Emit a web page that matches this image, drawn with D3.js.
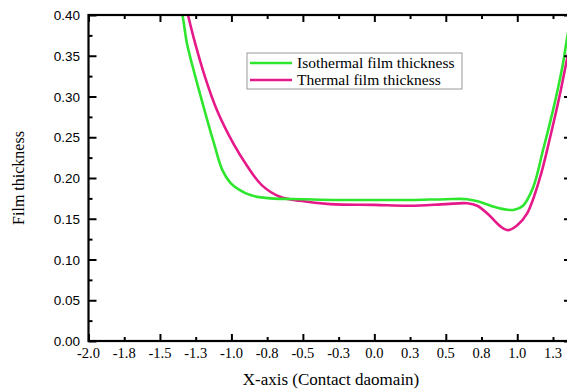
<!DOCTYPE html>
<html>
<head>
<meta charset="utf-8">
<script src="https://cdn.jsdelivr.net/npm/d3@7/dist/d3.min.js"></script>
<style>
body { margin: 0; background: #fff; }
</style>
</head>
<body>
<div id="chart"></div>
<script>
// values
var isoX = [-1.38, -1.343, -1.311, -1.252, -1.188, -1.123, -1.064, -1.007, -0.95, -0.867, -0.727, -0.5, -0.25, 0.0, 0.25, 0.5, 0.65, 0.75, 0.85, 0.93, 0.98, 1.04, 1.112, 1.18, 1.25, 1.315, 1.35, 1.39];
var isoY = [0.424, 0.400, 0.365, 0.324, 0.283, 0.243, 0.210, 0.194, 0.186, 0.179, 0.175, 0.174, 0.173, 0.173, 0.173, 0.174, 0.174, 0.170, 0.164, 0.161, 0.161, 0.166, 0.189, 0.234, 0.283, 0.336, 0.373, 0.412];

var thermX = [-1.33, -1.304, -1.255, -1.185, -1.101, -0.989, -0.891, -0.786, -0.66, -0.52, -0.31, 0.0, 0.25, 0.5, 0.65, 0.72, 0.80, 0.88, 0.937, 1.0, 1.07, 1.16, 1.23, 1.30, 1.35, 1.40];
var thermY = [0.420, 0.400, 0.366, 0.324, 0.283, 0.243, 0.215, 0.191, 0.177, 0.172, 0.168, 0.167, 0.166, 0.168, 0.169, 0.166, 0.155, 0.141, 0.136, 0.142, 0.157, 0.201, 0.250, 0.304, 0.348, 0.392];

var seriesNames = ["Isothermal film thickness", "Thermal film thickness"];

var xTicks = [-2.0, -1.75, -1.5, -1.25, -1.0, -0.75, -0.5, -0.25, 0.0, 0.25, 0.5, 0.75, 1.0, 1.25];
var xTickLabels = ["-2.0", "-1.8", "-1.5", "-1.3", "-1.0", "-0.8", "-0.5", "-0.3", "0.0", "0.3", "0.5", "0.8", "1.0", "1.3"];
var yTicks = [0.0, 0.05, 0.10, 0.15, 0.20, 0.25, 0.30, 0.35, 0.40];
var yTickLabels = ["0.00", "0.05", "0.10", "0.15", "0.20", "0.25", "0.30", "0.35", "0.40"];
var yMinor = [0.025, 0.075, 0.125, 0.175, 0.225, 0.275, 0.325, 0.375];

var colors = ["#2ee62e", "#e6198a"];

var svg = d3.select("#chart").append("svg").attr("width", 567).attr("height", 391),
    plotL = 88.5, plotR = 573, plotT = 15, plotB = 341;

var x = d3.scaleLinear().domain([-2.0, 1.39]).range([plotL, plotR]);
var y = d3.scaleLinear().domain([0, 0.4]).range([plotB, plotT]);

var serif = "'Liberation Serif','Times New Roman',serif",
    sans = "'Liberation Sans',Arial,sans-serif";

svg.append("clipPath").attr("id", "plot")
  .append("rect").attr("x", plotL).attr("y", plotT).attr("width", plotR - plotL).attr("height", plotB - plotT);

// curves
var line = d3.line()
  .x(function(d) { return x(d[0]); })
  .y(function(d) { return y(d[1]); })
  .curve(d3.curveCatmullRom.alpha(0.5));

var series = [d3.zip(isoX, isoY), d3.zip(thermX, thermY)];
// pink first so green sits on top like the original
[1, 0].forEach(function(i) {
  svg.append("path")
    .datum(series[i])
    .attr("clip-path", "url(#plot)")
    .attr("fill", "none")
    .attr("stroke", colors[i])
    .attr("stroke-width", 2.6)
    .attr("d", line);
});

// inward ticks on all four sides, major every 0.5 on x
var majorX = xTicks.filter(function(d) { return Math.abs(d * 2 - Math.round(d * 2)) < 1e-9; });
var minorX = xTicks.filter(function(d) { return majorX.indexOf(d) < 0; });

function axisGroup(axis, tx, ty) {
  var g = svg.append("g").attr("transform", "translate(" + tx + "," + ty + ")").call(axis);
  g.select(".domain").remove();
  g.selectAll(".tick line").attr("stroke", "#000").attr("stroke-width", 2);
  return g;
}

axisGroup(d3.axisTop(x).tickValues(majorX).tickSize(7).tickFormat(""), 0, plotB);
axisGroup(d3.axisTop(x).tickValues(minorX).tickSize(4).tickFormat(""), 0, plotB);
axisGroup(d3.axisBottom(x).tickValues(majorX).tickSize(7).tickFormat(""), 0, plotT);
axisGroup(d3.axisBottom(x).tickValues(minorX).tickSize(4).tickFormat(""), 0, plotT);
axisGroup(d3.axisRight(y).tickValues(yTicks).tickSize(8).tickFormat(""), plotL, 0);
axisGroup(d3.axisRight(y).tickValues(yMinor).tickSize(4).tickFormat(""), plotL, 0);
axisGroup(d3.axisLeft(y).tickValues(yTicks).tickSize(9).tickFormat(""), plotR, 0);
axisGroup(d3.axisLeft(y).tickValues(yMinor).tickSize(4).tickFormat(""), plotR, 0);

// frame
svg.append("rect")
  .attr("x", plotL).attr("y", plotT)
  .attr("width", plotR - plotL).attr("height", plotB - plotT)
  .attr("fill", "none").attr("stroke", "#000").attr("stroke-width", 2.2);

// tick labels
svg.append("g").selectAll("text")
  .data(xTicks)
  .enter().append("text")
  .attr("x", function(d) { return x(d); })
  .attr("y", 358)
  .attr("text-anchor", "middle")
  .style("font-family", serif).style("font-size", "14.5px")
  .text(function(d, i) { return xTickLabels[i]; });

svg.append("g").selectAll("text")
  .data(yTicks)
  .enter().append("text")
  .attr("x", 80)
  .attr("y", function(d) { return y(d) + 5; })
  .attr("text-anchor", "end")
  .style("font-family", sans).style("font-size", "13.5px")
  .text(function(d, i) { return yTickLabels[i]; });

// axis titles
svg.append("text")
  .attr("x", 331).attr("y", 385)
  .attr("text-anchor", "middle")
  .style("font-family", serif).style("font-size", "17px")
  .text("X-axis (Contact daomain)");

svg.append("text")
  .attr("transform", "translate(24,178) rotate(-90)")
  .attr("text-anchor", "middle")
  .style("font-family", serif).style("font-size", "16px")
  .text("Film thickness");

// legend
var lg = svg.append("g").attr("transform", "translate(247,53)");
lg.append("rect")
  .attr("width", 215).attr("height", 36)
  .attr("fill", "#fff").attr("stroke", "#999").attr("stroke-width", 1);

seriesNames.forEach(function(name, i) {
  var ly = 10 + i * 17;
  lg.append("line")
    .attr("x1", 3).attr("x2", 45).attr("y1", ly).attr("y2", ly)
    .attr("stroke", colors[i]).attr("stroke-width", 2.6);
  lg.append("text")
    .attr("x", 50).attr("y", ly + 5)
    .style("font-family", serif).style("font-size", "15.5px")
    .text(name);
});
</script>
</body>
</html>
